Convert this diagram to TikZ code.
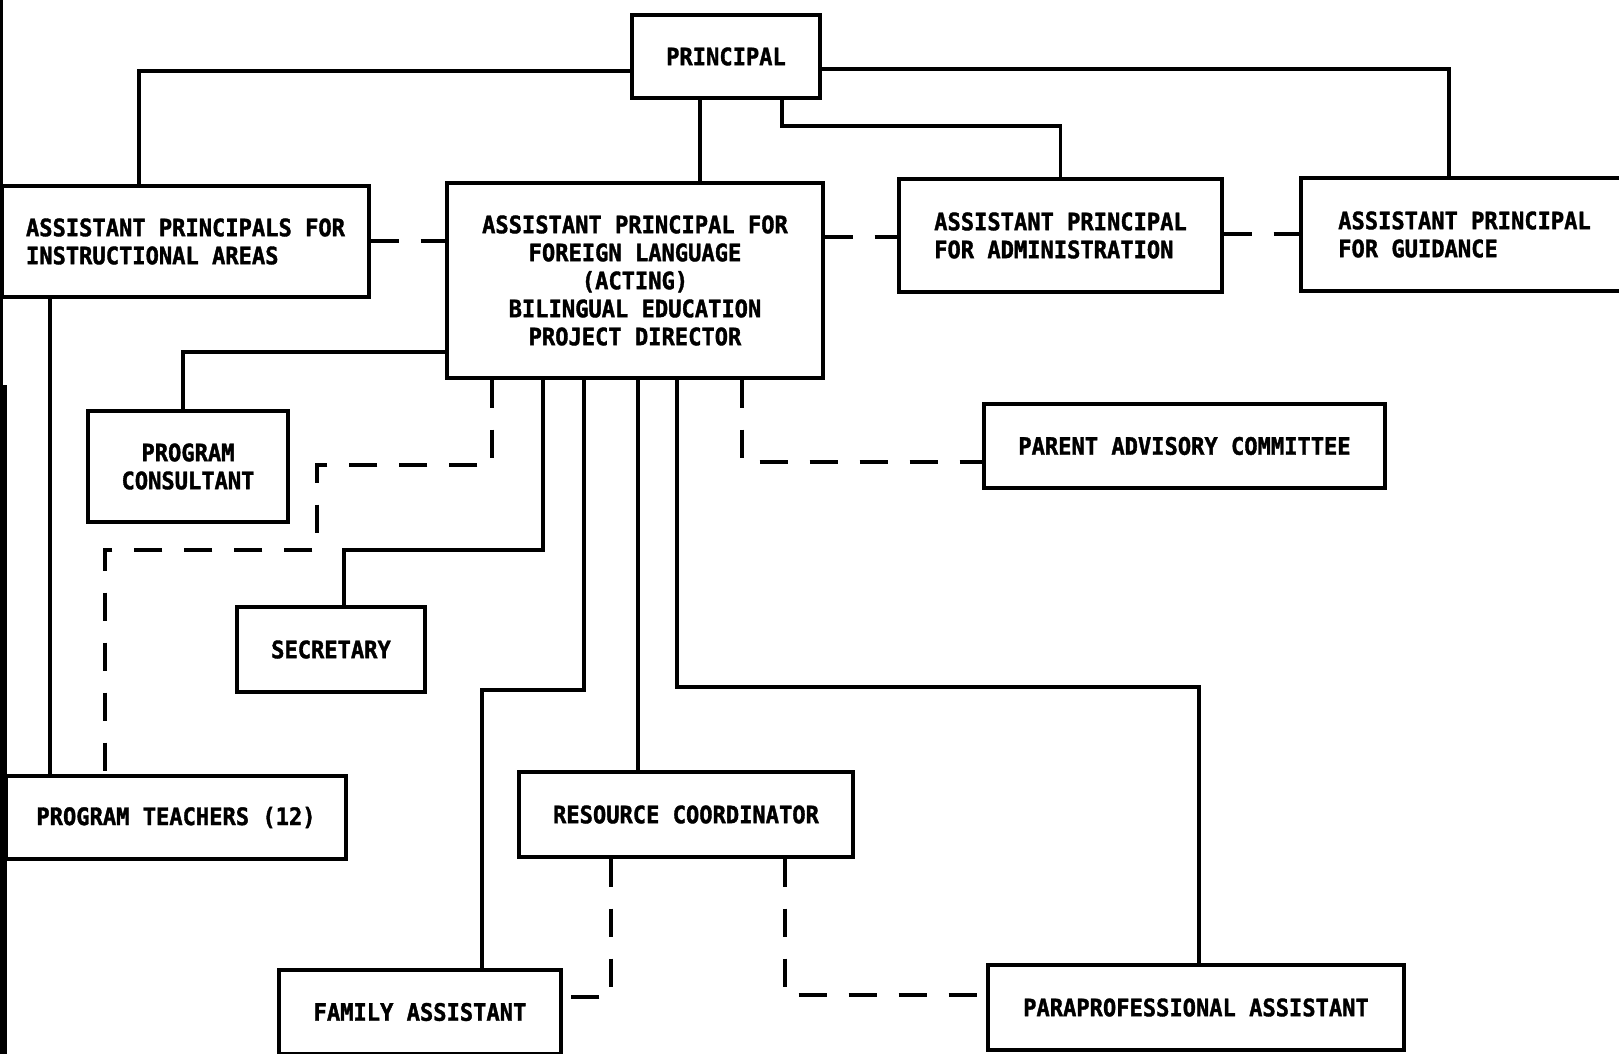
\documentclass[tikz,border=0pt]{standalone}
\usepackage{fontspec}
\newfontfamily\labfont{DejaVu Sans Mono}[FakeStretch=0.92,BoldFeatures={FakeBold=1.5}]
\begin{document}
\begin{tikzpicture}[x=1pt,y=-1pt,
  box/.style={draw, line width=3.2pt, inner sep=0pt, align=center,
    font=\labfont\bfseries\fontsize{24}{28}\selectfont},
  link/.style={line width=3.4pt},
  dlink/.style={line width=3.4pt, dash pattern=on 28pt off 22pt}]
\fill[white] (0,0) rectangle (1619,1054);
\useasboundingbox (0,0) rectangle (1619,1054);
% scan border on the left
\fill[black] (0,0) rectangle (3,385);
\fill[black] (0,385) rectangle (7,1054);

% boxes
\node[box, minimum width=188pt, minimum height=83pt] (prin) at (726,56.5) {PRINCIPAL};
\node[box, align=left, minimum width=367pt, minimum height=111pt] (apia) at (185.5,241.5)
  {ASSISTANT PRINCIPALS FOR\\INSTRUCTIONAL AREAS};
\node[box, minimum width=376pt, minimum height=195pt] (apfl) at (635,280.5)
  {ASSISTANT PRINCIPAL FOR\\FOREIGN LANGUAGE\\(ACTING)\\BILINGUAL EDUCATION\\PROJECT DIRECTOR};
\node[box, align=left, minimum width=323pt, minimum height=113pt] (apa) at (1060.5,235.5)
  {ASSISTANT PRINCIPAL\\FOR ADMINISTRATION};
\node[box, align=left, minimum width=327pt, minimum height=113pt] (apg) at (1464.5,234.5)
  {ASSISTANT PRINCIPAL\\FOR GUIDANCE};
\node[box, minimum width=200pt, minimum height=111pt] (pc) at (188,466.5)
  {PROGRAM\\CONSULTANT};
\node[box, minimum width=188pt, minimum height=85pt] (sec) at (331,649.5) {SECRETARY};
\node[box, minimum width=401pt, minimum height=84pt] (pac) at (1184.5,446)
  {PARENT ADVISORY COMMITTEE};
\node[box, minimum width=340pt, minimum height=83pt] (pt) at (176,817.5)
  {PROGRAM TEACHERS (12)};
\node[box, minimum width=334pt, minimum height=85pt] (rc) at (686,814.5)
  {RESOURCE COORDINATOR};
\node[box, minimum width=282pt, minimum height=84pt] (fa) at (420,1012)
  {FAMILY ASSISTANT};
\node[box, minimum width=416pt, minimum height=85pt] (para) at (1196,1007.5)
  {PARAPROFESSIONAL ASSISTANT};

% solid connectors
\draw[link] (prin.west |- 0,71) -| (apia.north -| 139,0);
\draw[link] (prin.south -| 700,0) -- (apfl.north -| 700,0);
\draw[link] (prin.south -| 782,0) |- (1060.5,126) -- (apa.north);
\draw[link] (prin.east |- 0,69) -| (apg.north -| 1449,0);
\draw[link] (apia.south -| 50,0) -- (pt.north -| 50,0);
\draw[link] (apfl.west |- 0,352) -| (pc.north -| 183,0);
\draw[link] (apfl.south -| 543,0) |- (344,550) -- (sec.north -| 344,0);
\draw[link] (apfl.south -| 584,0) |- (482,690) -- (fa.north -| 482,0);
\draw[link] (apfl.south -| 638,0) -- (rc.north -| 638,0);
\draw[link] (apfl.south -| 677,0) |- (1199,687) -- (para.north -| 1199,0);

% dashed connectors
\draw[dlink] (apia.east |- 0,241) -- (apfl.west |- 0,241);
\draw[dlink] (apfl.east |- 0,237) -- (apa.west |- 0,237);
\draw[dlink] (apa.east |- 0,234) -- (apg.west |- 0,234);
\draw[dlink] (apfl.south -| 492,0) |- (317,465) |- (105,550) -- (pt.north -| 105,0);
\draw[dlink] (apfl.south -| 742,0) |- (pac.west |- 0,462);
\draw[dlink] (rc.south -| 611,0) |- (fa.east |- 0,997);
\draw[dlink] (rc.south -| 785,0) |- (para.west |- 0,995);
\end{tikzpicture}
\end{document}
